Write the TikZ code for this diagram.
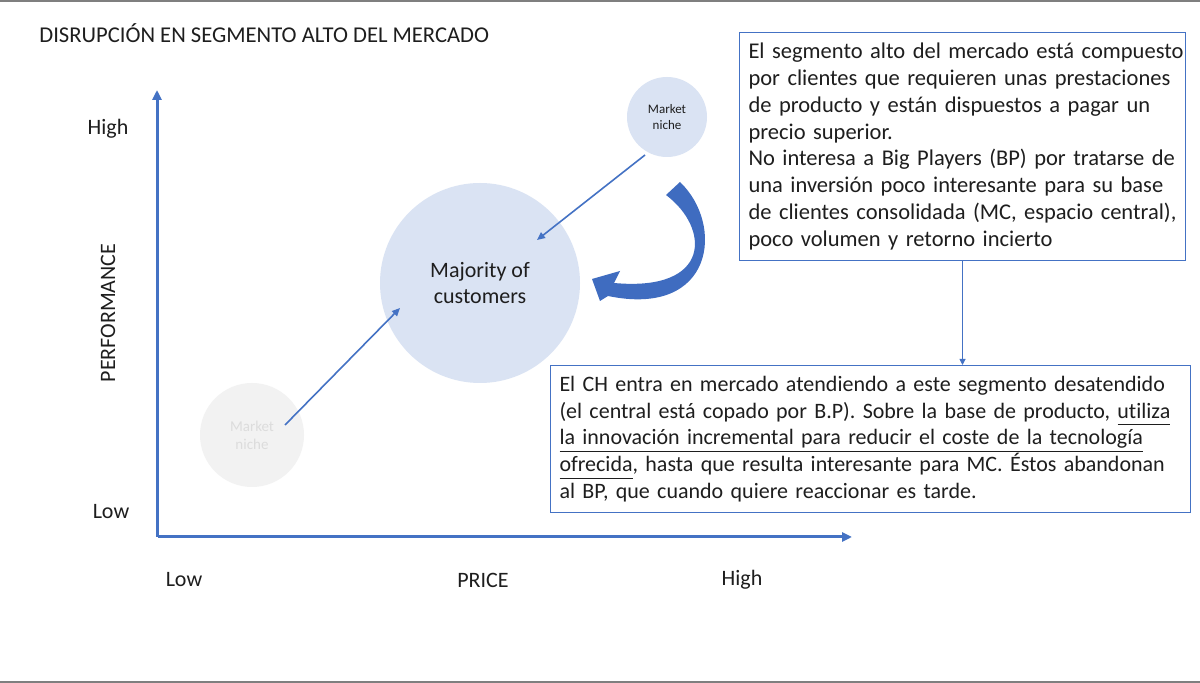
\documentclass[tikz,border=0pt]{standalone}
\usepackage{fontspec}
\setmainfont{Carlito}[Ligatures={NoCommon}]
\usetikzlibrary{arrows.meta,calc}
\definecolor{axisblue}{HTML}{4472C4}
\definecolor{bigfill}{HTML}{DAE3F3}
\definecolor{greyfill}{HTML}{F2F2F2}
\definecolor{greytext}{HTML}{DCDCDC}
\definecolor{txt}{HTML}{1E1E1E}
\definecolor{framegray}{HTML}{7F7F7F}
\definecolor{curvblue}{HTML}{3F6CC0}
\newcommand{\undl}[1]{\underline{#1\vphantom{gy}}}
\tikzset{
  lbl/.style={inner sep=0pt, text=txt, font=\fontsize{11}{13.4}\selectfont},
  axisline/.style={draw=axisblue, line width=1.5pt, -{Triangle[length=5pt,width=4.5pt]}},
  thinarrow/.style={draw=axisblue, line width=0.8pt, -{Triangle[length=4pt,width=3.5pt]}},
  bubble/.style={circle, fill=bigfill, text=txt, align=center, inner sep=0pt},
  notebox/.style={draw=axisblue, line width=0.5pt, anchor=north west, align=left, text=txt,
    font=\fontsize{11}{13.4}\selectfont, inner xsep=4.5pt, inner ysep=0pt}
}
\begin{document}
\begin{tikzpicture}[x=0.5pt,y=-0.5pt]
\useasboundingbox (0,0) rectangle (1200,683);
\fill[white] (0,0) rectangle (1200,683);
\draw[framegray, line width=1.2pt] (0,1) -- (1200,1);
\draw[framegray, line width=1.2pt] (0,682) -- (1200,682);

% title
\node[lbl, anchor=west, font=\fontsize{11.3}{13}\selectfont] (title) at (39,33) {DISRUPCIÓN EN SEGMENTO ALTO DEL MERCADO};

% axes
\coordinate (O) at (157,537);
\coordinate (ytip) at (157,90);
\coordinate (xtip) at (852,537);
\draw[axisline] (O) -- (ytip);
\draw[axisline] ($(O)+(1,0)$) -- (xtip);

% axis labels
\node[lbl] (yhigh) at (108,129) {High};
\node[lbl] (ylow) at (111,512) {Low};
\node[lbl, rotate=90] (yname) at (108,313) {PERFORMANCE};
\node[lbl] (xlow) at (184,580) {Low};
\node[lbl] (xname) at (483,580) {PRICE};
\node[lbl] (xhigh) at (742,580) {High};

% bubbles
\node[bubble, minimum size=100pt, font=\fontsize{11}{13.4}\selectfont] (maj) at (480,283) {Majority of\\customers};
\node[bubble, minimum size=40pt, font=\fontsize{6.5}{8}\selectfont] (nt) at (667,117) {Market\\niche};
\node[bubble, fill=greyfill, text=greytext, minimum size=52pt, font=\fontsize{7.5}{9}\selectfont] (nb) at (252,435) {Market\\niche};

% thin arrows
\draw[thinarrow] ($(nb.center)+(33,-10)$) -- ($(maj.center)+(-80,25)$);
\draw[thinarrow] ($(nt.center)+(-22,38)$) -- ($(maj.center)+(57,-43)$);

% curved block arrow
\fill[curvblue] (666,195) -- (680,182)
  .. controls (725,225) and (714,318) .. (608,296)
  -- (600,301) -- (592,279) -- (620,271) -- (614,283)
  .. controls (712,292) and (710,228) .. (666,195) -- cycle;

% text boxes
\node[notebox, text width=214pt, minimum height=114pt, font=\fontsize{11.25}{13.4}\selectfont] (tb) at (739,32) {%
\mbox{El segmento alto del mercado está compuesto}\\
\mbox{por clientes que requieren unas prestaciones}\\
\mbox{de producto y están dispuestos a pagar un}\\
\mbox{precio superior.}\\
\mbox{No interesa a Big Players (BP) por tratarse de}\\
\mbox{una inversión poco interesante para su base}\\
\mbox{de clientes consolidada (MC, espacio central),}\\
\mbox{poco volumen y retorno incierto}};

\node[notebox, text width=311pt, minimum height=73.5pt] (bb) at (550,365) {%
\mbox{El CH entra en mercado atendiendo a este segmento desatendido}\\
\mbox{(el central está copado por B.P). Sobre la base de producto, \undl{utiliza}}\\
\mbox{\undl{la innovación incremental para reducir el coste de la tecnología}}\\
\mbox{\undl{ofrecida}, hasta que resulta interesante para MC. Éstos abandonan}\\
\mbox{al BP, que cuando quiere reaccionar es tarde.}};

\draw[draw=axisblue, line width=0.5pt, -{Triangle[length=3pt,width=3pt]}] (tb.south) -- (tb.south |- bb.north);
\end{tikzpicture}
\end{document}
